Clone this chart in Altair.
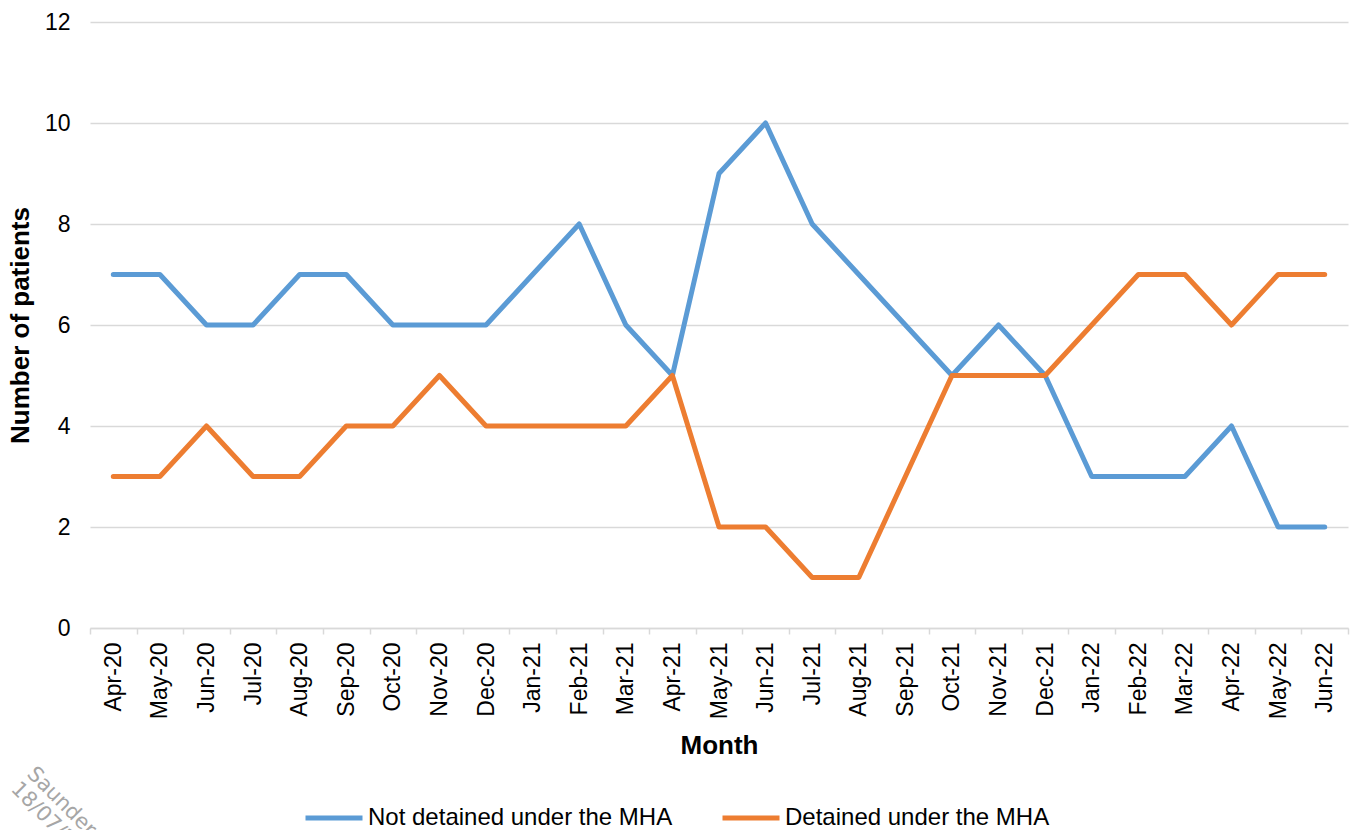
import altair as alt
import pandas as pd

months = ["Apr-20", "May-20", "Jun-20", "Jul-20", "Aug-20", "Sep-20", "Oct-20", "Nov-20", "Dec-20",
          "Jan-21", "Feb-21", "Mar-21", "Apr-21", "May-21", "Jun-21", "Jul-21", "Aug-21", "Sep-21",
          "Oct-21", "Nov-21", "Dec-21", "Jan-22", "Feb-22", "Mar-22", "Apr-22", "May-22", "Jun-22"]
not_detained = [7, 7, 6, 6, 7, 7, 6, 6, 6, 7, 8, 6, 5, 9, 10, 8, 7, 6, 5, 6, 5, 3, 3, 3, 4, 2, 2]
detained = [3, 3, 4, 3, 3, 4, 4, 5, 4, 4, 4, 4, 5, 2, 2, 1, 1, 3, 5, 5, 5, 6, 7, 7, 6, 7, 7]
series_names = ["Not detained under the MHA", "Detained under the MHA"]
series_colors = ["#5B9BD5", "#ED7D31"]
y_ticks = [0, 2, 4, 6, 8, 10, 12]
watermark_lines = ["Saunders", "18/07/2022"]

df = pd.DataFrame({
    "Month": months + months,
    "Patients": not_detained + detained,
    "Series": [series_names[0]] * len(months) + [series_names[1]] * len(months),
})

FONT = "Liberation Sans"

lines = alt.Chart(df).mark_line(strokeWidth=5, strokeCap="round", strokeJoin="round").encode(
    x=alt.X("Month:N", sort=months,
            scale=alt.Scale(type="band", paddingInner=0, paddingOuter=0),
            axis=alt.Axis(title="Month", labelAngle=-90, tickBand="extent", grid=False,
                          domainColor="#d9d9d9", domainWidth=1.5, tickColor="#d9d9d9",
                          tickWidth=1.5, tickSize=6, labelPadding=8, labelFontSize=23,
                          labelColor="#000000", titleFontSize=26, titleFontWeight="bold",
                          titleColor="#000000", titlePadding=14, labelFont=FONT, titleFont=FONT)),
    y=alt.Y("Patients:Q", scale=alt.Scale(domain=[0, 12], nice=False),
            axis=alt.Axis(title="Number of patients", values=y_ticks, domain=False, ticks=False,
                          gridColor="#d9d9d9", gridWidth=1.5, labelPadding=20, labelFontSize=23,
                          labelColor="#000000", titleFontSize=26, titleFontWeight="bold",
                          titleColor="#000000", titlePadding=11, labelFont=FONT, titleFont=FONT)),
    color=alt.Color("Series:N", sort=series_names,
                    scale=alt.Scale(domain=series_names, range=series_colors),
                    legend=alt.Legend(title=None, orient="none", legendX=213, legendY=765,
                                      direction="horizontal", symbolType="stroke",
                                      symbolSize=3249, symbolStrokeWidth=5,
                                      labelFontSize=24, labelFont=FONT, labelColor="#000000",
                                      labelOffset=3, labelLimit=0, columnPadding=39)),
)

watermark = alt.Chart(pd.DataFrame({"t": watermark_lines, "dx": [-52, -68], "dy": [741, 756]})).mark_text(
    angle=45, align="left", baseline="top", fontSize=21, font="DejaVu Sans", color="#a6a6a6"
).encode(
    text="t:N",
    x=alt.X("dx:Q", scale=None),
    y=alt.Y("dy:Q", scale=None),
)

chart = alt.layer(lines, watermark).properties(
    width=1258, height=606,
    autosize=alt.AutoSizeParams(type="none"),
    padding={"left": 82, "top": 14, "right": 7, "bottom": 202},
).configure_view(stroke=None)

chart.save("out.html", embed_options={"renderer": "svg", "actions": False})
